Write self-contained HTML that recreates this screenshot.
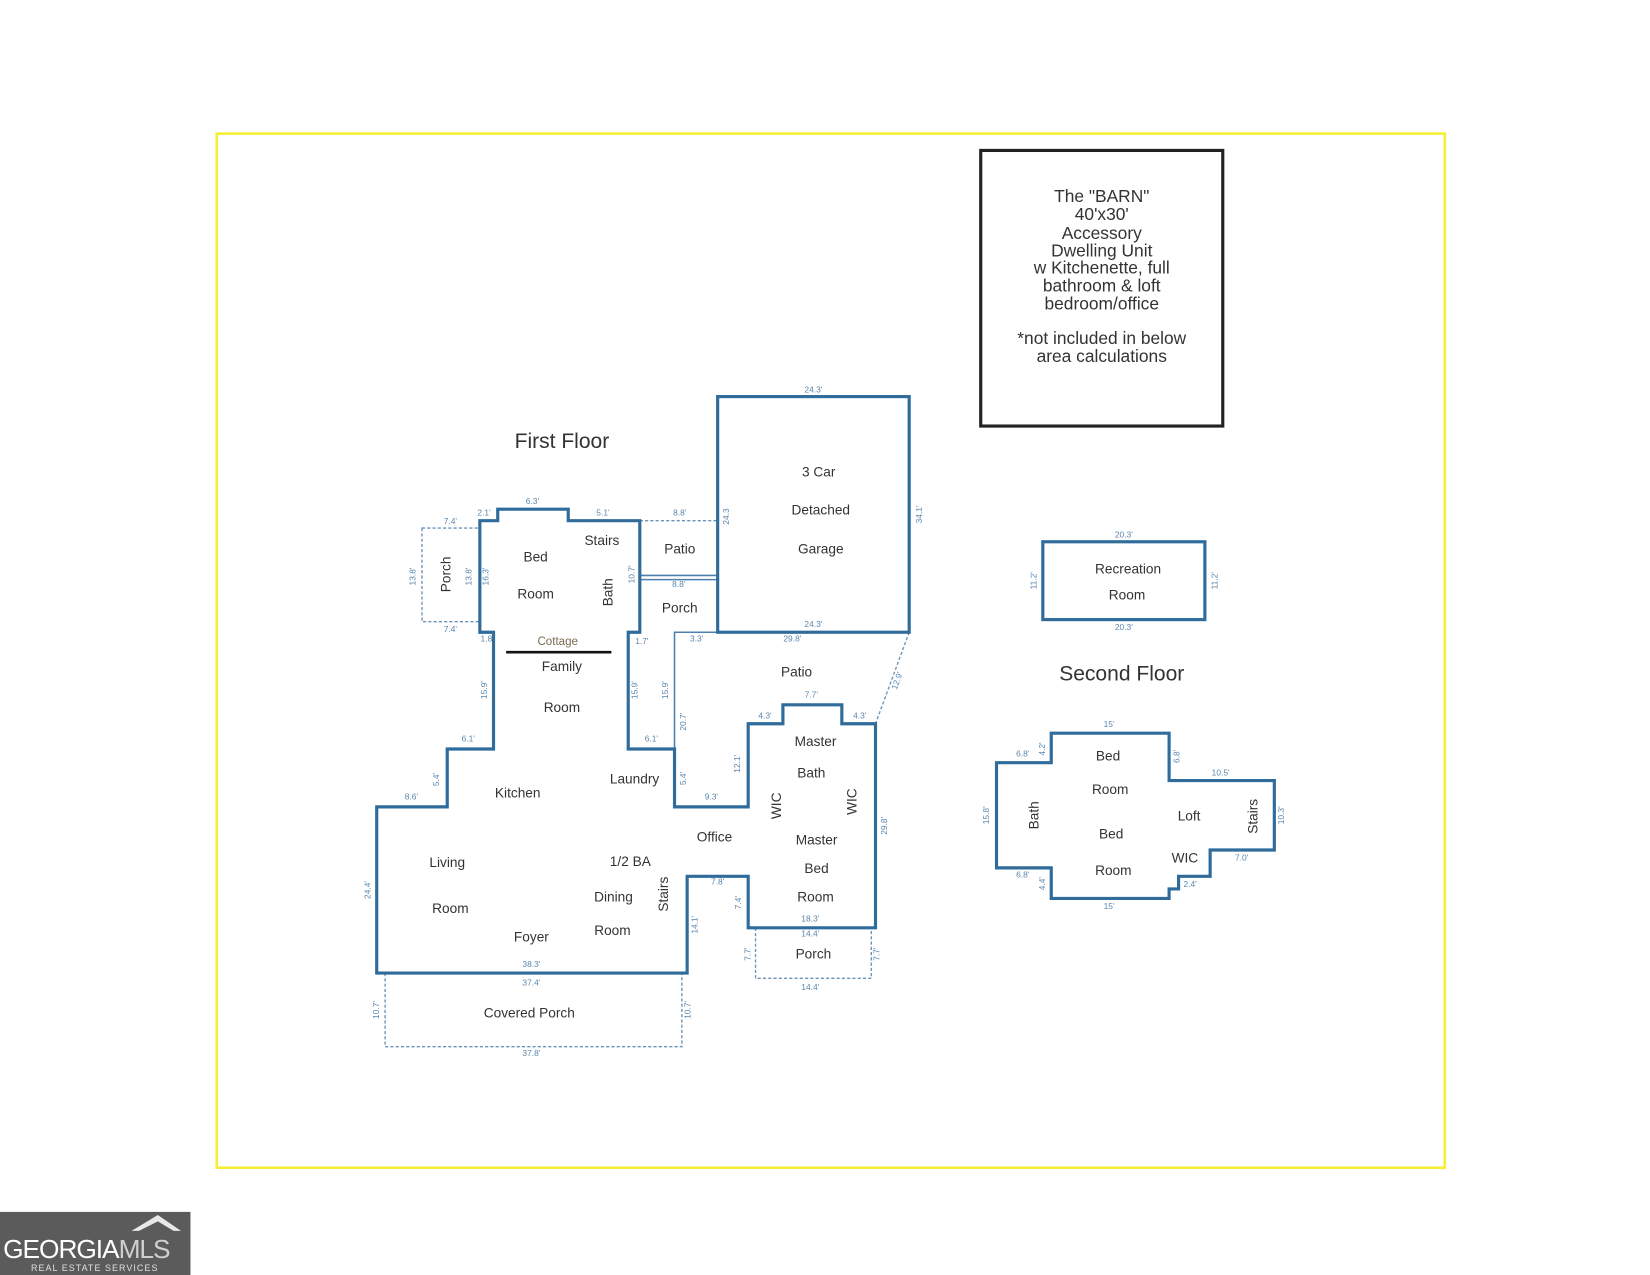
<!DOCTYPE html>
<html><head><meta charset="utf-8"><style>
html,body{margin:0;padding:0;background:#fff;width:1650px;height:1275px;overflow:hidden}
svg{display:block}
text{font-family:"Liberation Sans",sans-serif}
.r{font-size:13px;fill:#333;text-anchor:middle}
.d{font-size:8px;fill:#5a86ad;text-anchor:middle}
.w{fill:none;stroke:#2f6c9c;stroke-width:3}
.t{fill:none;stroke:#4d80ad;stroke-width:1.5}
.ds{fill:none;stroke:#6d93b8;stroke-width:1.3;stroke-dasharray:3 2}
</style></head><body>
<svg width="1650" height="1275" viewBox="0 0 1568 1212" preserveAspectRatio="none">
<rect x="206" y="127" width="1167" height="983" fill="none" stroke="#f5ef3a" stroke-width="2.5"/>
<rect x="932" y="143" width="230" height="262" fill="none" stroke="#222" stroke-width="3"/>
<g style="font-size:16.5px;fill:#333;text-anchor:middle">
<text x="1047" y="192">The "BARN"</text><text x="1047" y="209">40'x30'</text><text x="1047" y="227">Accessory</text><text x="1047" y="244">Dwelling Unit</text><text x="1047" y="260">w Kitchenette, full</text><text x="1047" y="277">bathroom &amp; loft</text><text x="1047" y="294">bedroom/office</text><text x="1047" y="327">*not included in below</text><text x="1047" y="344">area calculations</text>
</g>
<text x="534" y="426" style="font-size:20px;fill:#333;text-anchor:middle">First Floor</text>
<text x="1066" y="647" style="font-size:20px;fill:#333;text-anchor:middle">Second Floor</text>
<rect x="401" y="502" width="55" height="89" class="ds"/>
<polyline points="366,925 366,995 648,995 648,925" class="ds"/>
<polyline points="718,882 718,930 828,930 828,882" class="ds"/>
<line x1="608" y1="495" x2="682" y2="495" class="ds"/>
<line x1="864" y1="601" x2="832" y2="688" class="ds"/>
<line x1="608" y1="547" x2="682" y2="547" class="t"/>
<line x1="608" y1="551" x2="682" y2="551" class="t"/>
<polyline points="641,767 641,601 682,601" class="t"/>
<rect x="682" y="377" width="182" height="224" class="w"/>
<polygon class="w" points="456,495 473,495 473,484 540,484 540,495 608,495 608,601 597,601 597,712 641,712 641,767 711,767 711,688 744,688 744,670 800,670 800,688 832,688 832,882 711,882 711,833 653,833 653,925 358,925 358,767 425,767 425,712 469,712 469,601 456,601"/>
<line x1="481" y1="620" x2="581" y2="620" stroke="#111" stroke-width="2.5"/>
<rect x="991" y="515" width="154" height="74" class="w"/>
<polygon class="w" points="999,697 1111,697 1111,742 1211,742 1211,808 1150,808 1150,833 1120,833 1120,845 1111,845 1111,854 999,854 999,825 947,825 947,725 999,725"/>
<g class="r">
<text x="778" y="453">3 Car</text><text x="780" y="489">Detached</text><text x="780" y="526">Garage</text>
<text x="509" y="534">Bed</text><text x="509" y="569">Room</text><text x="572" y="518">Stairs</text>
<text x="646" y="526">Patio</text><text x="646" y="582">Porch</text>
<text x="530" y="613" style="font-size:11px;fill:#7a6a50">Cottage</text>
<text x="534" y="638">Family</text><text x="534" y="677">Room</text>
<text x="757" y="643">Patio</text>
<text x="775" y="709">Master</text><text x="771" y="739">Bath</text>
<text x="492" y="758">Kitchen</text><text x="603" y="745">Laundry</text>
<text x="679" y="800">Office</text>
<text x="776" y="803">Master</text><text x="776" y="830">Bed</text><text x="775" y="857">Room</text>
<text x="425" y="824">Living</text><text x="428" y="868">Room</text>
<text x="599" y="823">1/2 BA</text><text x="583" y="857">Dining</text><text x="582" y="889">Room</text>
<text x="505" y="895">Foyer</text>
<text x="773" y="911">Porch</text>
<text x="503" y="967">Covered Porch</text>
<text x="1072" y="545">Recreation</text><text x="1071" y="570">Room</text>
<text x="1053" y="723">Bed</text><text x="1055" y="755">Room</text>
<text x="1130" y="780">Loft</text>
<text x="1056" y="797">Bed</text><text x="1058" y="832">Room</text>
<text x="1126" y="820">WIC</text>
</g>
<g class="r">
<text transform="translate(428,546) rotate(-90)">Porch</text>
<text transform="translate(582,563) rotate(-90)">Bath</text>
<text transform="translate(742,766) rotate(-90)">WIC</text>
<text transform="translate(814,762) rotate(-90)">WIC</text>
<text transform="translate(635,850) rotate(-90)">Stairs</text>
<text transform="translate(987,775) rotate(-90)">Bath</text>
<text transform="translate(1195,776) rotate(-90)">Stairs</text>
</g>
<g class="d">
<text x="773" y="373">24.3'</text><text x="773" y="596">24.3'</text><text x="753" y="610">29.8'</text>
<text x="506" y="479">6.3'</text><text x="460" y="490">2.1'</text><text x="573" y="490">5.1'</text><text x="646" y="490">8.8'</text>
<text x="428" y="498">7.4'</text><text x="428" y="601">7.4'</text><text x="645" y="558">8.8'</text>
<text x="662" y="610">3.3'</text><text x="610" y="612">1.7'</text><text x="463" y="610">1.8'</text>
<text x="771" y="663">7.7'</text><text x="727" y="683">4.3'</text><text x="817" y="683">4.3'</text>
<text x="445" y="705">6.1'</text><text x="619" y="705">6.1'</text><text x="391" y="760">8.6'</text>
<text x="676" y="760">9.3'</text><text x="682" y="841">7.8'</text><text x="770" y="876">18.3'</text>
<text x="770" y="890">14.4'</text><text x="770" y="941">14.4'</text>
<text x="505" y="919">38.3'</text><text x="505" y="937">37.4'</text><text x="505" y="1004">37.8'</text>
<text x="1068" y="511">20.3'</text><text x="1068" y="599">20.3'</text>
<text x="1054" y="691">15'</text><text x="1054" y="864">15'</text><text x="972" y="719">6.8'</text><text x="972" y="834">6.8'</text>
<text x="1160" y="737">10.5'</text><text x="1180" y="818">7.0'</text><text x="1131" y="843">2.4'</text>
</g>
<g class="d">
<text transform="translate(395,548) rotate(-90)">13.8'</text>
<text transform="translate(448,548) rotate(-90)">13.8'</text>
<text transform="translate(464,548) rotate(-90)">16.3'</text>
<text transform="translate(603,546) rotate(-90)">10.7'</text>
<text transform="translate(693,491) rotate(-90)">24.3</text>
<text transform="translate(876,489) rotate(-90)">34.1'</text>
<text transform="translate(463,656) rotate(-90)">15.9'</text>
<text transform="translate(606,656) rotate(-90)">15.9'</text>
<text transform="translate(635,656) rotate(-90)">15.9'</text>
<text transform="translate(652,686) rotate(-90)">20.7'</text>
<text transform="translate(855,648) rotate(-70)">12.9'</text>
<text transform="translate(703,726) rotate(-90)">12.1'</text>
<text transform="translate(417,741) rotate(-90)">5.4'</text>
<text transform="translate(652,740) rotate(-90)">5.4'</text>
<text transform="translate(843,785) rotate(-90)">29.8'</text>
<text transform="translate(352,846) rotate(-90)">24.4'</text>
<text transform="translate(704,858) rotate(-90)">7.4'</text>
<text transform="translate(663,879) rotate(-90)">14.1'</text>
<text transform="translate(713,907) rotate(-90)">7.7'</text>
<text transform="translate(836,907) rotate(-90)">7.7'</text>
<text transform="translate(360,960) rotate(-90)">10.7'</text>
<text transform="translate(656,960) rotate(-90)">10.7'</text>
<text transform="translate(985,552) rotate(-90)">11.2'</text>
<text transform="translate(1157,552) rotate(-90)">11.2'</text>
<text transform="translate(940,775) rotate(-90)">15.8'</text>
<text transform="translate(1220,775) rotate(-90)">10.3'</text>
<text transform="translate(993,712) rotate(-90)">4.2'</text>
<text transform="translate(993,840) rotate(-90)">4.4'</text>
<text transform="translate(1121,719) rotate(-90)">6.8'</text>
</g>
<rect x="0" y="1152" width="181" height="60" fill="#5b5b5b"/>
<polygon points="125,1170 150,1155 172,1170 165,1170 150,1161 132,1170" fill="#e8e8e8"/>
<text x="3" y="1196" style="font-size:25px;fill:#fff;letter-spacing:-1px">GEORGIA<tspan fill="#cfcfcf">MLS</tspan></text>
<text x="90" y="1208" style="font-size:8.5px;fill:#e0e0e0;text-anchor:middle;letter-spacing:1px">REAL ESTATE SERVICES</text>
</svg>
</body></html>
